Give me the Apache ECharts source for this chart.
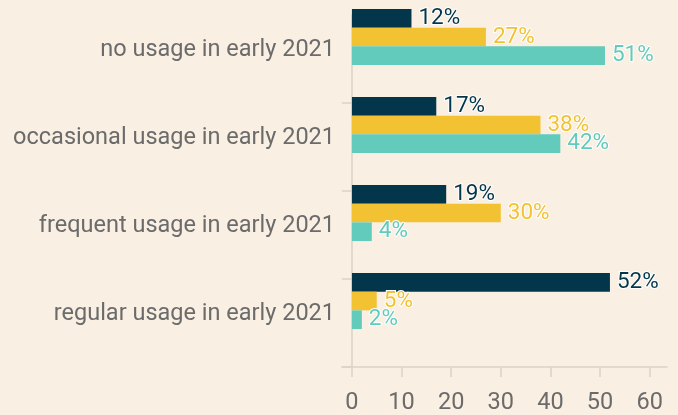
<!DOCTYPE html>
<html>
<head>
<meta charset="utf-8">
<script src="https://cdn.jsdelivr.net/npm/echarts@6/dist/echarts.min.js"></script>
<style>
  html, body { margin: 0; padding: 0; background: #f9efe2; }
  #chart { width: 678px; height: 415px; }
</style>
</head>
<body>
<div id="chart"></div>
<script>
const categories = [
  'no usage in early 2021',
  'occasional usage in early 2021',
  'frequent usage in early 2021',
  'regular usage in early 2021'
]
const seriesNames = ['series 1', 'series 2', 'series 3']
const darkValues = [12, 17, 19, 52]
const yellowValues = [27, 38, 30, 5]
const tealValues = [51, 42, 4, 2]
const xTicks = [0, 10, 20, 30, 40, 50, 60]

const colors = ['#03364a', '#f2c232', '#63cbbb']
const font = 'Roboto'
const axisColor = '#ddd3c5'
const textColor = '#6b6b6b'

const chart = echarts.init(document.getElementById('chart'))

const barSeries = (name, data, i) => ({
  name,
  type: 'bar',
  xAxisIndex: 1,
  yAxisIndex: 1,
  data,
  clip: false,
  barWidth: 18.7,
  barGap: '0%',
  itemStyle: { color: colors[i] },
  label: {
    show: true,
    position: 'right',
    distance: 7,
    formatter: '{c}%',
    fontFamily: font,
    fontSize: 22.5,
    color: colors[i],
    textBorderColor: '#ffffff',
    textBorderWidth: 2
  }
})

chart.setOption({
  backgroundColor: '#f9efe2',
  animation: false,
  grid: [
    // axes
    { left: 342, right: 11, top: 15, bottom: 48 },
    // bars: group centres on the grid lines, above the label bands
    { left: 342, right: 11, top: 37, bottom: 114 }
  ],
  xAxis: [
    {
      gridIndex: 0,
      type: 'value',
      min: -2,
      max: 63.5,
      splitLine: { show: false },
      axisLine: { show: true, lineStyle: { color: axisColor, width: 1.5 } },
      axisTick: { show: true, length: 10, customValues: xTicks, lineStyle: { color: axisColor, width: 1.5 } },
      axisLabel: {
        customValues: xTicks,
        margin: 24,
        fontFamily: font,
        fontSize: 23.5,
        color: textColor
      }
    },
    {
      gridIndex: 1,
      type: 'value',
      min: -2,
      max: 63.5,
      show: false
    }
  ],
  yAxis: [
    {
      gridIndex: 0,
      type: 'category',
      inverse: true,
      data: categories,
      axisLine: { show: true, onZero: true, lineStyle: { color: axisColor, width: 1.5 } },
      axisTick: {
        show: true,
        length: 10,
        interval: (i) => i !== 0,
        lineStyle: { color: axisColor, width: 1.5 }
      },
      axisLabel: {
        margin: 7,
        fontFamily: font,
        fontSize: 23.5,
        color: textColor,
        verticalAlign: 'bottom',
        lineHeight: 17
      }
    },
    {
      gridIndex: 1,
      type: 'category',
      inverse: true,
      boundaryGap: false,
      data: categories,
      show: false
    }
  ],
  series: [
    barSeries(seriesNames[0], darkValues, 0),
    barSeries(seriesNames[1], yellowValues, 1),
    barSeries(seriesNames[2], tealValues, 2)
  ]
})
</script>
</body>
</html>
